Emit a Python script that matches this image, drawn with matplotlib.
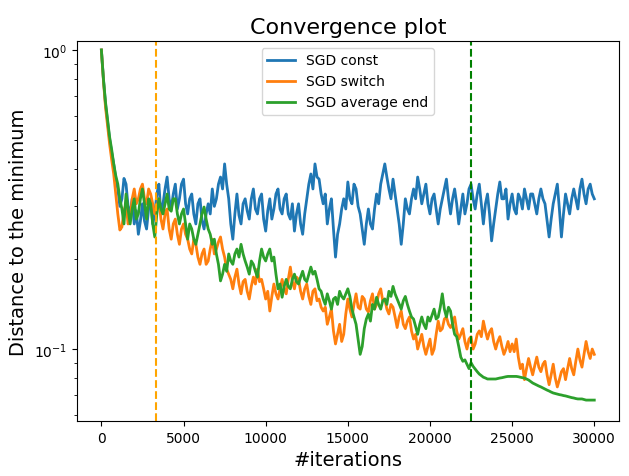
import numpy as np
import matplotlib
matplotlib.use("Agg")
import matplotlib.pyplot as plt

# iterations sampled every 125 steps
iterations = np.arange(0, 30001, 125)

sgd_const = [
    1.0, 0.80, 0.660, 0.575, 0.504, 0.455, 0.416, 0.372, 0.343, 0.300,
    0.318, 0.372, 0.356, 0.300, 0.283, 0.318, 0.262, 0.290, 0.242, 0.268,
    0.306, 0.268, 0.252, 0.294, 0.318, 0.262, 0.283, 0.330, 0.356, 0.283,
    0.306, 0.343, 0.376, 0.318, 0.294, 0.330, 0.356, 0.294, 0.318, 0.356,
    0.370, 0.306, 0.283, 0.318, 0.330, 0.283, 0.262, 0.306, 0.318, 0.270,
    0.252, 0.283, 0.306, 0.283, 0.343, 0.300, 0.318, 0.356, 0.376, 0.343,
    0.416, 0.356, 0.318, 0.262, 0.233, 0.283, 0.330, 0.280, 0.262, 0.306,
    0.318, 0.290, 0.272, 0.318, 0.343, 0.294, 0.283, 0.318, 0.330, 0.272,
    0.248, 0.290, 0.318, 0.272, 0.294, 0.330, 0.343, 0.294, 0.283, 0.318,
    0.330, 0.283, 0.272, 0.306, 0.248, 0.283, 0.306, 0.262, 0.242, 0.283,
    0.318, 0.356, 0.385, 0.343, 0.416, 0.376, 0.370, 0.330, 0.306, 0.330,
    0.262, 0.294, 0.318, 0.252, 0.203, 0.242, 0.262, 0.294, 0.318, 0.294,
    0.362, 0.318, 0.306, 0.356, 0.343, 0.300, 0.283, 0.252, 0.224, 0.262,
    0.294, 0.262, 0.252, 0.294, 0.330, 0.306, 0.356, 0.385, 0.416, 0.376,
    0.343, 0.318, 0.370, 0.330, 0.294, 0.262, 0.224, 0.262, 0.318, 0.294,
    0.283, 0.318, 0.343, 0.318, 0.376, 0.343, 0.306, 0.330, 0.356, 0.306,
    0.283, 0.318, 0.330, 0.294, 0.262, 0.294, 0.318, 0.343, 0.370, 0.318,
    0.283, 0.318, 0.343, 0.306, 0.262, 0.294, 0.330, 0.283, 0.306, 0.343,
    0.356, 0.318, 0.294, 0.330, 0.356, 0.306, 0.262, 0.306, 0.330, 0.283,
    0.230, 0.262, 0.294, 0.330, 0.362, 0.318, 0.318, 0.343, 0.272, 0.306,
    0.330, 0.294, 0.283, 0.330, 0.318, 0.294, 0.343, 0.318, 0.294, 0.330,
    0.330, 0.306, 0.283, 0.318, 0.343, 0.318, 0.306, 0.270, 0.237, 0.272,
    0.306, 0.330, 0.356, 0.294, 0.237, 0.283, 0.330, 0.306, 0.283, 0.318,
    0.343, 0.318, 0.294, 0.343, 0.370, 0.330, 0.306, 0.343, 0.356, 0.330,
    0.318,
]

sgd_switch = [
    1.0, 0.79, 0.645, 0.560, 0.485, 0.430, 0.385, 0.330, 0.283, 0.250,
    0.256, 0.290, 0.306, 0.262, 0.272, 0.318, 0.343, 0.306, 0.318, 0.343,
    0.356, 0.318, 0.306, 0.343, 0.330, 0.306, 0.283, 0.300, 0.318, 0.272,
    0.252, 0.283, 0.294, 0.252, 0.233, 0.262, 0.272, 0.242, 0.224, 0.252,
    0.262, 0.242, 0.233, 0.216, 0.208, 0.233, 0.224, 0.203, 0.192, 0.208,
    0.216, 0.192, 0.197, 0.216, 0.233, 0.208, 0.216, 0.228, 0.237, 0.216,
    0.203, 0.185, 0.178, 0.171, 0.159, 0.174, 0.185, 0.165, 0.153, 0.168,
    0.171, 0.156, 0.147, 0.162, 0.174, 0.165, 0.185, 0.168, 0.171, 0.159,
    0.147, 0.156, 0.134, 0.150, 0.165, 0.153, 0.147, 0.159, 0.171, 0.159,
    0.153, 0.171, 0.188, 0.168, 0.159, 0.174, 0.171, 0.156, 0.147, 0.159,
    0.165, 0.150, 0.141, 0.156, 0.159, 0.145, 0.147, 0.138, 0.134, 0.138,
    0.121, 0.128, 0.136, 0.115, 0.104, 0.112, 0.121, 0.106, 0.112, 0.131,
    0.147, 0.136, 0.128, 0.141, 0.153, 0.138, 0.136, 0.150, 0.147, 0.136,
    0.133, 0.145, 0.153, 0.136, 0.141, 0.153, 0.159, 0.145, 0.147, 0.136,
    0.131, 0.141, 0.138, 0.128, 0.118, 0.128, 0.134, 0.121, 0.117, 0.124,
    0.128, 0.115, 0.108, 0.112, 0.100, 0.106, 0.112, 0.102, 0.096, 0.102,
    0.108, 0.096, 0.100, 0.112, 0.124, 0.115, 0.117, 0.126, 0.128, 0.121,
    0.118, 0.122, 0.128, 0.115, 0.108, 0.112, 0.117, 0.106, 0.100, 0.108,
    0.110, 0.100, 0.104, 0.112, 0.115, 0.110, 0.124, 0.115, 0.108, 0.114,
    0.117, 0.106, 0.100, 0.106, 0.110, 0.102, 0.096, 0.100, 0.106, 0.098,
    0.104, 0.098, 0.108, 0.094, 0.086, 0.089, 0.079, 0.086, 0.093, 0.087,
    0.082, 0.088, 0.094, 0.087, 0.084, 0.089, 0.091, 0.082, 0.076, 0.082,
    0.089, 0.080, 0.0747, 0.079, 0.084, 0.086, 0.079, 0.086, 0.093, 0.086,
    0.082, 0.091, 0.100, 0.092, 0.087, 0.096, 0.106, 0.098, 0.093, 0.100,
    0.096,
]

sgd_average_end = [
    1.0, 0.80, 0.670, 0.585, 0.512, 0.465, 0.416, 0.380, 0.356, 0.318,
    0.294, 0.262, 0.330, 0.294, 0.262, 0.294, 0.318, 0.272, 0.283, 0.318,
    0.343, 0.306, 0.272, 0.318, 0.306, 0.262, 0.237, 0.283, 0.318, 0.294,
    0.283, 0.306, 0.330, 0.294, 0.289, 0.318, 0.318, 0.283, 0.262, 0.283,
    0.294, 0.262, 0.233, 0.262, 0.252, 0.233, 0.224, 0.242, 0.262, 0.283,
    0.2985, 0.272, 0.252, 0.242, 0.224, 0.233, 0.208, 0.192, 0.169, 0.178,
    0.192, 0.182, 0.208, 0.197, 0.192, 0.208, 0.216, 0.203, 0.224, 0.208,
    0.197, 0.188, 0.178, 0.197, 0.192, 0.182, 0.174, 0.197, 0.216, 0.203,
    0.197, 0.208, 0.216, 0.197, 0.203, 0.178, 0.159, 0.165, 0.149, 0.162,
    0.171, 0.162, 0.159, 0.171, 0.178, 0.168, 0.165, 0.174, 0.182, 0.171,
    0.168, 0.178, 0.188, 0.178, 0.182, 0.171, 0.159, 0.156, 0.147, 0.141,
    0.153, 0.145, 0.136, 0.147, 0.149, 0.141, 0.156, 0.150, 0.147, 0.153,
    0.159, 0.150, 0.136, 0.128, 0.121, 0.108, 0.096, 0.102, 0.117, 0.126,
    0.131, 0.124, 0.141, 0.136, 0.149, 0.141, 0.136, 0.145, 0.147, 0.141,
    0.156, 0.150, 0.162, 0.153, 0.147, 0.141, 0.136, 0.145, 0.150, 0.141,
    0.134, 0.128, 0.126, 0.119, 0.112, 0.121, 0.128, 0.121, 0.117, 0.128,
    0.124, 0.130, 0.136, 0.126, 0.128, 0.138, 0.153, 0.136, 0.128, 0.138,
    0.134, 0.121, 0.112, 0.110, 0.102, 0.094, 0.091, 0.092, 0.089, 0.086,
    0.090, 0.0875, 0.0857, 0.084, 0.0825, 0.0815, 0.0805, 0.0800, 0.0794, 0.0794,
    0.0794, 0.0794, 0.0794, 0.0797, 0.080, 0.0802, 0.0805, 0.0808, 0.081, 0.081,
    0.081, 0.081, 0.081, 0.0808, 0.0805, 0.0802, 0.080, 0.0794, 0.0788, 0.0779,
    0.077, 0.0764, 0.0758, 0.0752, 0.0747, 0.0741, 0.0735, 0.0729, 0.0724, 0.0718,
    0.0713, 0.0710, 0.0707, 0.0704, 0.0702, 0.0699, 0.0697, 0.0694, 0.0691, 0.0688,
    0.0686, 0.0683, 0.0681, 0.0681, 0.0681, 0.0678, 0.0675, 0.0675, 0.0675, 0.0675,
    0.0675,
]

switch_iter = 3300
average_start_iter = 22500

fig, ax = plt.subplots(figsize=(6.29, 4.77), dpi=100)
ax.plot(iterations, sgd_const, lw=2, label="SGD const")
ax.plot(iterations, sgd_switch, lw=2, label="SGD switch")
ax.plot(iterations, sgd_average_end, lw=2, label="SGD average end")
ax.axvline(switch_iter, color="orange", ls="--", lw=1.5)
ax.axvline(average_start_iter, color="green", ls="--", lw=1.5)
ax.set_yscale("log")
ax.set_ylim(0.0574, 1.072)
ax.set_xlabel("#iterations", fontsize=14)
ax.set_ylabel("Distance to the minimum", fontsize=14)
ax.set_title("Convergence plot", fontsize=16)
ax.legend(loc="upper center")
fig.subplots_adjust(left=0.122, right=0.984, top=0.912, bottom=0.115)
fig.savefig("out.png", dpi=100)
